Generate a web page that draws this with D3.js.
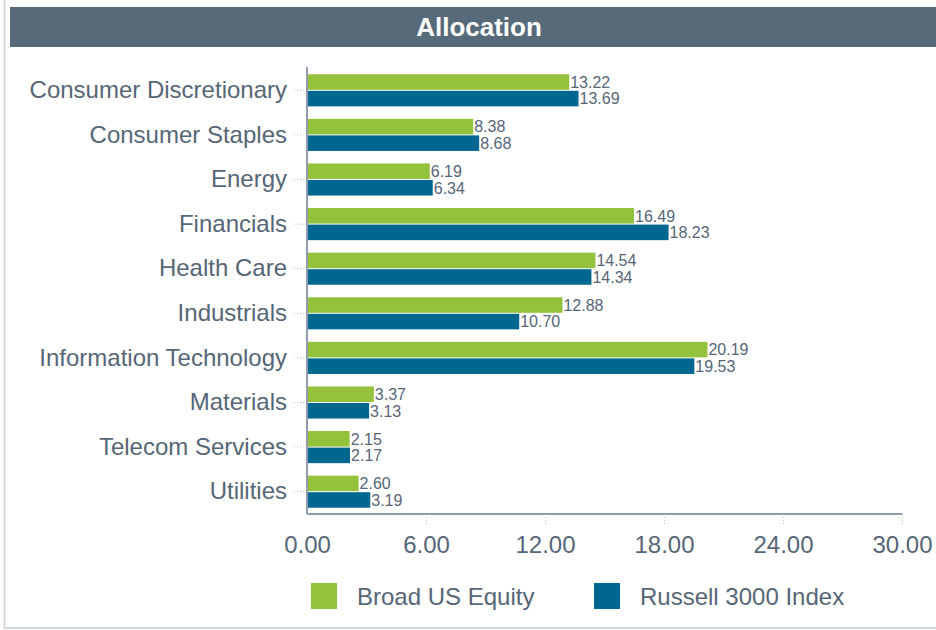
<!DOCTYPE html>
<html>
<head>
<meta charset="utf-8">
<script src="https://cdn.jsdelivr.net/npm/d3@7"></script>
<style>
  body { margin: 0; background: #fff; }
  svg text { font-family: "Liberation Sans", Arial, sans-serif; }
</style>
</head>
<body>
<script>
// Allocation by sector
const categories = ["Consumer Discretionary", "Consumer Staples", "Energy", "Financials", "Health Care",
    "Industrials", "Information Technology", "Materials", "Telecom Services", "Utilities"];
const seriesNames = ["Broad US Equity", "Russell 3000 Index"];
const broadUS = [13.22, 8.38, 6.19, 16.49, 14.54, 12.88, 20.19, 3.37, 2.15, 2.60];
const russell3000 = [13.69, 8.68, 6.34, 18.23, 14.34, 10.70, 19.53, 3.13, 2.17, 3.19];
const xTicks = [0, 6, 12, 18, 24, 30];
const colors = ["#95c23d", "#006890"];

const width = 936, height = 630;
const textColor = "#566677";

const svg = d3.select("body").append("svg")
    .attr("width", width)
    .attr("height", height);

// frame lines
svg.append("line")
    .attr("x1", 4.5).attr("x2", 4.5).attr("y1", 0).attr("y2", 628)
    .attr("stroke", "#d3d9e0").attr("stroke-width", 2);
svg.append("line")
    .attr("x1", 4).attr("x2", width).attr("y1", 628).attr("y2", 628)
    .attr("stroke", "#d3d9e0").attr("stroke-width", 2);

// title bar
svg.append("rect")
    .attr("x", 10).attr("y", 7).attr("width", width - 10).attr("height", 40)
    .attr("fill", "#566a7a");
svg.append("text")
    .attr("x", 479).attr("y", 36)
    .attr("text-anchor", "middle")
    .attr("fill", "#fff")
    .style("font-size", "26px")
    .style("font-weight", "bold")
    .text("Allocation");

// scales
const x = d3.scaleLinear().domain([0, 30]).range([307, 902]);
const y = d3.scaleBand().domain(categories).range([68, 514])
    .paddingInner(0.28).paddingOuter(0.14);
const y1 = d3.scaleBand().domain(seriesNames).range([0, y.bandwidth()]).paddingInner(0.06);

const rows = categories.map((c, i) => ({ cat: c, values: [broadUS[i], russell3000[i]] }));

// bars
const groups = svg.append("g").selectAll("g")
    .data(rows)
    .join("g")
    .attr("transform", d => `translate(0,${y(d.cat)})`);

groups.selectAll("rect")
    .data(d => d.values.map((v, j) => ({ v, s: seriesNames[j], j })))
    .join("rect")
    .attr("x", x(0))
    .attr("y", d => y1(d.s))
    .attr("width", d => x(d.v) - x(0))
    .attr("height", y1.bandwidth())
    .attr("fill", d => colors[d.j]);

groups.selectAll("text")
    .data(d => d.values.map((v, j) => ({ v, s: seriesNames[j] })))
    .join("text")
    .attr("x", d => x(d.v) + 1)
    .attr("y", d => y1(d.s) + y1.bandwidth() / 2)
    .attr("dy", "0.36em")
    .attr("fill", textColor)
    .style("font-size", "16px")
    .text(d => d.v.toFixed(2));

// y axis
const yAxis = svg.append("g")
    .attr("transform", `translate(${x(0)},0)`)
    .call(d3.axisLeft(y).tickSize(0).tickPadding(20));
yAxis.select(".domain").remove();
yAxis.selectAll("text")
    .attr("fill", textColor)
    .style("font-size", "24px")
    .attr("x", -20);
yAxis.selectAll(".tick").append("line")
    .attr("x1", -13).attr("x2", -3)
    .attr("stroke", "#b8c0c8")
    .attr("stroke-dasharray", "1,2");
svg.append("line")
    .attr("x1", x(0)).attr("x2", x(0))
    .attr("y1", 67).attr("y2", 514)
    .attr("stroke", "#8e9cab").attr("stroke-width", 2);

// x axis
const xAxis = svg.append("g")
    .attr("transform", "translate(0,514)")
    .call(d3.axisBottom(x).tickValues(xTicks).tickFormat(d3.format(".2f")).tickSize(0).tickPadding(22));
xAxis.select(".domain").remove();
xAxis.selectAll("text")
    .attr("fill", textColor)
    .style("font-size", "24px");
xAxis.selectAll(".tick").filter(d => d > 0).append("line")
    .attr("y1", 0).attr("y2", 12)
    .attr("stroke", "#b8c0c8")
    .attr("stroke-dasharray", "1,2");
svg.append("line")
    .attr("x1", x(0)).attr("x2", x(30))
    .attr("y1", 514).attr("y2", 514)
    .attr("stroke", "#8e9cab").attr("stroke-width", 2);

// legend
const legendX = [311, 594];
const legend = svg.append("g").selectAll("g")
    .data(seriesNames)
    .join("g")
    .attr("transform", (d, i) => `translate(${legendX[i]},583)`);
legend.append("rect")
    .attr("width", 26).attr("height", 26)
    .attr("fill", (d, i) => colors[i]);
legend.append("text")
    .attr("x", 46).attr("y", 13)
    .attr("dy", "0.36em")
    .attr("fill", textColor)
    .style("font-size", "24px")
    .text(d => d);
</script>
</body>
</html>
